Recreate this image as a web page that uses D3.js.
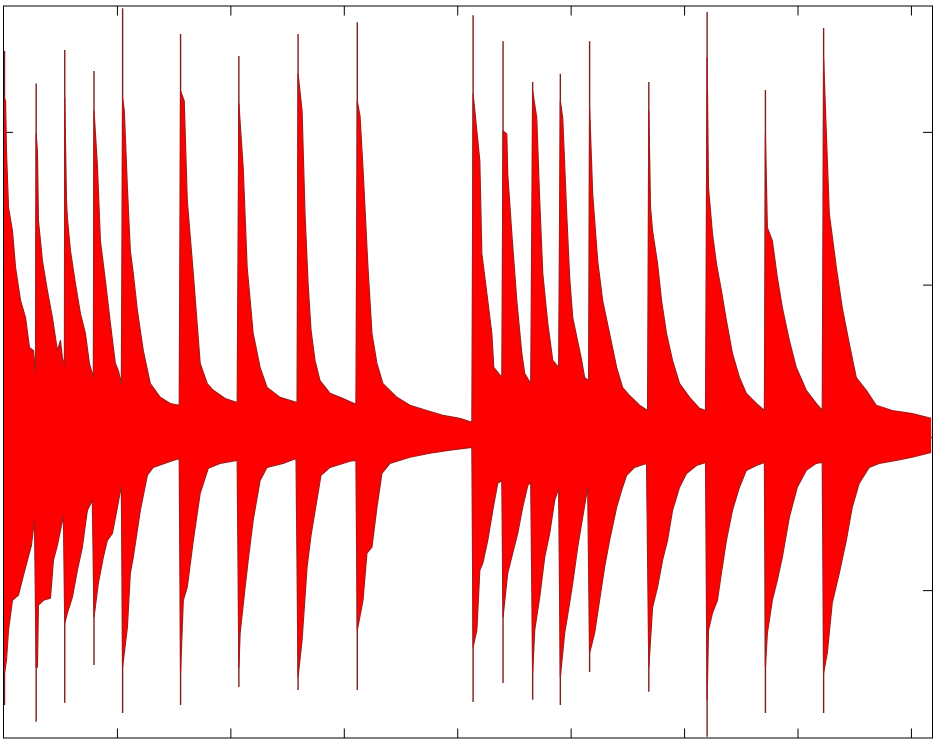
<!DOCTYPE html>
<html>
<head>
<meta charset="utf-8">
<script src="https://cdn.jsdelivr.net/npm/d3@7"></script>
<style>
  html, body { margin: 0; padding: 0; background: #fff; }
  svg { display: block; }
</style>
</head>
<body>
<svg id="chart" width="937" height="741"></svg>
<script>
// ---- data (time in s, amplitude) ----
const xTicks = [1, 2, 3, 4, 5, 6, 7, 8];
const yTicks = [-0.5, 0, 0.5, 1];
const xDomain = [0, 8.19];
const yDomain = [-0.984, 1.412];

// note onsets and their transient peaks
const onsets   = [0.009, 0.288, 0.540, 0.798, 1.050, 1.561, 2.075, 2.597, 3.119, 4.140, 4.404, 4.665, 4.909, 5.167, 5.689, 6.203, 6.717, 7.230];
const peakHigh = [1.265, 1.158, 1.268, 1.199, 1.405, 1.320, 1.248, 1.320, 1.359, 1.382, 1.297, 1.163, 1.190, 1.297, 1.163, 1.392, 1.137, 1.340];
const peakLow  = [-0.876, -0.931, -0.869, -0.745, -0.902, -0.876, -0.817, -0.827, -0.827, -0.866, -0.804, -0.859, -0.876, -0.768, -0.833, -0.980, -0.902, -0.902];

// centre line of the signal (small DC offset)
const baseline = 0.016;

// upper envelope of the waveform body [t, amplitude]
const upperEnv = [
  [0,1.118],[0.018,1.101],[0.026,0.938],[0.044,0.752],[0.079,0.676],[0.106,0.556],[0.150,0.448],[0.194,0.392],[0.229,0.294],[0.264,0.284],[0.282,0.212],
  [0.288,0.993],[0.299,0.938],[0.308,0.709],[0.343,0.578],[0.387,0.480],[0.431,0.392],[0.475,0.284],[0.502,0.317],[0.519,0.261],[0.537,0.235],
  [0.540,1.111],[0.555,0.775],[0.563,0.719],[0.590,0.611],[0.634,0.503],[0.678,0.405],[0.722,0.340],[0.757,0.242],[0.792,0.196],
  [0.798,1.069],[0.827,0.895],[0.854,0.644],[0.898,0.513],[0.942,0.373],[0.986,0.242],[1.012,0.219],[1.039,0.176],
  [1.050,1.111],[1.065,1.069],[1.092,0.817],[1.118,0.611],[1.144,0.536],[1.180,0.415],[1.232,0.284],[1.294,0.176],[1.382,0.131],[1.470,0.111],[1.549,0.105],
  [1.561,1.134],[1.593,1.101],[1.620,0.775],[1.673,0.536],[1.734,0.242],[1.796,0.176],[1.849,0.154],[1.954,0.127],[2.060,0.114],
  [2.075,1.092],[2.113,0.882],[2.148,0.556],[2.201,0.340],[2.262,0.229],[2.324,0.163],[2.438,0.131],[2.588,0.114],
  [2.597,1.190],[2.632,1.069],[2.658,0.732],[2.685,0.503],[2.711,0.350],[2.746,0.252],[2.790,0.186],[2.879,0.144],[2.993,0.127],[3.107,0.108],
  [3.119,1.101],[3.143,1.052],[3.169,0.882],[3.213,0.556],[3.248,0.340],[3.292,0.242],[3.345,0.176],[3.468,0.131],[3.583,0.105],[3.732,0.088],[3.873,0.072],[4.023,0.062],[4.129,0.049],
  [4.140,1.124],[4.173,1.003],[4.199,0.905],[4.217,0.601],[4.261,0.471],[4.305,0.340],[4.322,0.229],[4.393,0.196],
  [4.404,1.003],[4.437,0.993],[4.445,0.863],[4.481,0.667],[4.525,0.448],[4.569,0.275],[4.595,0.209],[4.648,0.176],
  [4.665,1.134],[4.701,1.046],[4.727,0.775],[4.754,0.536],[4.798,0.373],[4.842,0.252],[4.894,0.229],
  [4.909,1.101],[4.930,1.046],[4.965,0.732],[4.991,0.523],[5.018,0.392],[5.097,0.252],[5.123,0.196],[5.158,0.186],
  [5.167,1.078],[5.194,0.797],[5.238,0.578],[5.282,0.448],[5.343,0.340],[5.405,0.229],[5.458,0.163],[5.519,0.137],[5.607,0.105],[5.678,0.088],
  [5.689,1.069],[5.704,0.752],[5.722,0.676],[5.766,0.569],[5.801,0.448],[5.845,0.340],[5.898,0.252],[5.960,0.176],[6.048,0.131],[6.136,0.095],[6.189,0.088],
  [6.203,1.242],[6.215,0.817],[6.250,0.667],[6.285,0.569],[6.329,0.480],[6.373,0.382],[6.426,0.275],[6.488,0.196],[6.549,0.144],[6.637,0.111],[6.708,0.088],
  [6.717,0.993],[6.734,0.686],[6.778,0.644],[6.822,0.523],[6.866,0.425],[6.928,0.317],[6.989,0.229],[7.077,0.154],[7.165,0.111],[7.218,0.088],
  [7.230,1.242],[7.254,0.993],[7.280,0.732],[7.342,0.556],[7.394,0.425],[7.456,0.307],[7.518,0.196],[7.606,0.154],[7.694,0.105],[7.835,0.088],[8.011,0.078],[8.178,0.062]
];

// lower envelope of the waveform body [t, amplitude]
const lowerEnv = [
  [0,-0.794],[0.026,-0.729],[0.044,-0.631],[0.079,-0.533],[0.132,-0.516],[0.176,-0.451],[0.211,-0.402],[0.246,-0.353],[0.273,-0.271],
  [0.288,-0.752],[0.299,-0.752],[0.308,-0.549],[0.352,-0.533],[0.414,-0.526],[0.440,-0.402],[0.475,-0.353],[0.511,-0.288],[0.528,-0.255],
  [0.540,-0.608],[0.563,-0.575],[0.607,-0.523],[0.651,-0.435],[0.695,-0.359],[0.739,-0.239],[0.783,-0.206],
  [0.798,-0.588],[0.836,-0.477],[0.880,-0.392],[0.915,-0.337],[0.960,-0.314],[1.004,-0.229],[1.039,-0.157],
  [1.050,-0.752],[1.092,-0.621],[1.118,-0.444],[1.144,-0.392],[1.206,-0.239],[1.268,-0.124],[1.320,-0.098],[1.444,-0.082],[1.549,-0.069],
  [1.561,-0.771],[1.585,-0.533],[1.620,-0.490],[1.673,-0.337],[1.734,-0.183],[1.805,-0.101],[1.910,-0.085],[2.060,-0.075],
  [2.075,-0.752],[2.086,-0.641],[2.130,-0.490],[2.157,-0.402],[2.201,-0.271],[2.262,-0.141],[2.324,-0.098],[2.465,-0.085],[2.579,-0.069],
  [2.597,-0.784],[2.632,-0.663],[2.676,-0.425],[2.711,-0.320],[2.755,-0.222],[2.799,-0.124],[2.879,-0.098],[3.055,-0.078],[3.107,-0.075],
  [3.119,-0.631],[3.169,-0.533],[3.204,-0.379],[3.248,-0.359],[3.292,-0.229],[3.336,-0.118],[3.407,-0.085],[3.583,-0.065],[3.759,-0.052],[3.935,-0.042],[4.129,-0.033],
  [4.140,-0.686],[4.173,-0.631],[4.199,-0.435],[4.225,-0.412],[4.269,-0.337],[4.313,-0.239],[4.357,-0.150],[4.393,-0.141],
  [4.404,-0.588],[4.445,-0.444],[4.489,-0.379],[4.533,-0.314],[4.577,-0.229],[4.622,-0.157],[4.648,-0.147],
  [4.665,-0.771],[4.683,-0.631],[4.727,-0.523],[4.771,-0.392],[4.815,-0.314],[4.859,-0.206],[4.894,-0.167],
  [4.909,-0.784],[4.947,-0.641],[4.991,-0.542],[5.018,-0.477],[5.062,-0.359],[5.106,-0.261],[5.150,-0.163],
  [5.167,-0.706],[5.211,-0.641],[5.255,-0.533],[5.299,-0.425],[5.343,-0.337],[5.405,-0.229],[5.449,-0.173],[5.493,-0.124],[5.563,-0.098],[5.669,-0.085],
  [5.689,-0.752],[5.722,-0.556],[5.766,-0.490],[5.810,-0.402],[5.854,-0.337],[5.898,-0.239],[5.960,-0.163],[6.021,-0.118],[6.109,-0.092],[6.189,-0.082],
  [6.203,-0.859],[6.215,-0.631],[6.250,-0.575],[6.294,-0.533],[6.329,-0.444],[6.373,-0.337],[6.426,-0.239],[6.488,-0.163],[6.549,-0.108],[6.637,-0.092],[6.708,-0.082],
  [6.717,-0.752],[6.734,-0.641],[6.778,-0.533],[6.822,-0.467],[6.866,-0.392],[6.928,-0.261],[6.998,-0.163],[7.077,-0.108],[7.165,-0.085],[7.218,-0.082],
  [7.230,-0.771],[7.262,-0.706],[7.306,-0.542],[7.368,-0.444],[7.430,-0.337],[7.482,-0.229],[7.544,-0.150],[7.632,-0.098],[7.720,-0.085],[7.870,-0.075],[8.011,-0.065],[8.178,-0.049]
];

// ---- drawing ----
(function () {
  const svg = d3.select("#chart");
  const mL = 3.5, mR = 932.5, mT = 6, mB = 738;
  const x = d3.scaleLinear().domain(xDomain).range([mL, mR]);
  const y = d3.scaleLinear().domain(yDomain).range([mB, mT]);

  svg.append("defs").append("clipPath").attr("id", "plotclip")
    .append("rect").attr("x", mL).attr("y", mT).attr("width", mR - mL).attr("height", mB - mT);

  // axes (ticks inside, drawn beneath the data)
  const tickLen = 9.5;
  function styleAxis(g) {
    g.select(".domain").remove();
    g.selectAll(".tick line").attr("stroke", "#000").attr("stroke-width", 1);
    g.selectAll("text").remove();
  }
  svg.append("g").attr("transform", `translate(0,${mB})`)
    .call(d3.axisBottom(x).tickValues(xTicks).tickSize(-tickLen).tickFormat("")).call(styleAxis);
  svg.append("g").attr("transform", `translate(0,${mT})`)
    .call(d3.axisTop(x).tickValues(xTicks).tickSize(-tickLen).tickFormat("")).call(styleAxis);
  svg.append("g").attr("transform", `translate(${mL},0)`)
    .call(d3.axisLeft(y).tickValues(yTicks).tickSize(-tickLen).tickFormat("")).call(styleAxis);
  svg.append("g").attr("transform", `translate(${mR},0)`)
    .call(d3.axisRight(y).tickValues(yTicks).tickSize(-tickLen).tickFormat("")).call(styleAxis);

  const plot = svg.append("g").attr("clip-path", "url(#plotclip)");

  // transient spikes (thin lines)
  plot.selectAll("line.spike").data(onsets).join("line")
    .attr("class", "spike")
    .attr("x1", d => x(d)).attr("x2", d => x(d))
    .attr("y1", (d, i) => y(peakLow[i])).attr("y2", (d, i) => y(peakHigh[i]))
    .attr("stroke", "#7c2020").attr("stroke-width", 1.4);

  // waveform body: the two halves overlap a little around the centre line
  const overlap = 0.015;
  const upperArea = d3.area().x(d => x(d[0])).y0(y(baseline - overlap)).y1(d => y(d[1]));
  const lowerArea = d3.area().x(d => x(d[0])).y0(y(baseline + overlap)).y1(d => y(d[1]));
  const lineFn = d3.line().x(d => x(d[0])).y(d => y(d[1]));

  plot.append("path").datum(upperEnv).attr("d", upperArea).attr("fill", "#ff0000");
  plot.append("path").datum(lowerEnv).attr("d", lowerArea).attr("fill", "#ff0000");
  plot.append("path").datum(upperEnv).attr("d", lineFn)
    .attr("fill", "none").attr("stroke", "#a81a1a").attr("stroke-width", 1.2).attr("stroke-linejoin", "round");
  plot.append("path").datum(lowerEnv).attr("d", lineFn)
    .attr("fill", "none").attr("stroke", "#a81a1a").attr("stroke-width", 1.2).attr("stroke-linejoin", "round");

  // axes box
  svg.append("rect").attr("x", mL).attr("y", mT)
    .attr("width", mR - mL).attr("height", mB - mT)
    .attr("fill", "none").attr("stroke", "#000").attr("stroke-width", 1);
})();
</script>
</body>
</html>
